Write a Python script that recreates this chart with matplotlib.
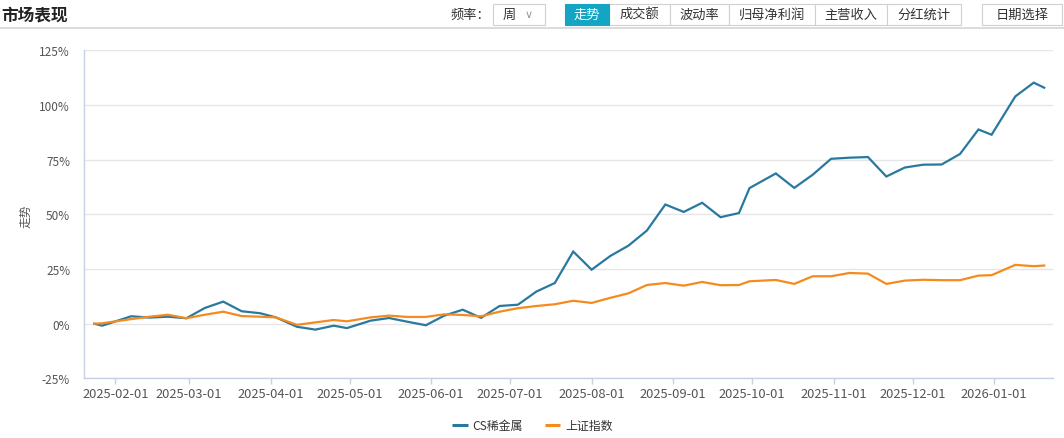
import matplotlib
matplotlib.use("Agg")
import matplotlib.pyplot as plt
import matplotlib.dates as mdates
from matplotlib.patches import Rectangle
import pandas as pd

plt.rcParams['font.family'] = ['Noto Sans CJK SC', 'DejaVu Sans']

# ---------------- data ----------------
dates = ["2025-01-24", "2025-01-27", "2025-02-07", "2025-02-14", "2025-02-21", "2025-02-28",
         "2025-03-07", "2025-03-14", "2025-03-21", "2025-03-28", "2025-04-03", "2025-04-11",
         "2025-04-18", "2025-04-25", "2025-04-30", "2025-05-09", "2025-05-16", "2025-05-23",
         "2025-05-30", "2025-06-06", "2025-06-13", "2025-06-20", "2025-06-27", "2025-07-04",
         "2025-07-11", "2025-07-18", "2025-07-25", "2025-08-01", "2025-08-08", "2025-08-15",
         "2025-08-22", "2025-08-29", "2025-09-05", "2025-09-12", "2025-09-19", "2025-09-26",
         "2025-09-30", "2025-10-10", "2025-10-17", "2025-10-24", "2025-10-31", "2025-11-07",
         "2025-11-14", "2025-11-21", "2025-11-28", "2025-12-05", "2025-12-12", "2025-12-19",
         "2025-12-26", "2025-12-31", "2026-01-09", "2026-01-16", "2026-01-20"]

cs_rare_metal = [0.0, -0.9, 3.4, 2.8, 3.2, 2.5, 7.2, 10.1, 5.7, 4.8, 2.9, -1.4, -2.7, -0.9,
                 -2.0, 1.4, 2.6, 0.9, -0.7, 3.7, 6.4, 2.7, 8.1, 8.7, 14.7, 18.6, 33.0, 24.7,
                 30.9, 35.7, 42.6, 54.5, 51.1, 55.3, 48.7, 50.6, 62.0, 68.7, 62.1, 68.1, 75.4,
                 75.9, 76.2, 67.3, 71.4, 72.7, 72.8, 77.6, 88.8, 86.4, 103.9, 110.2, 107.9]

sse_index = [0.0, 0.2, 2.1, 3.2, 4.1, 2.5, 4.1, 5.5, 3.5, 3.2, 2.9, -0.5, 0.6, 1.7,
             1.1, 2.9, 3.7, 3.1, 3.1, 4.3, 4.0, 3.4, 5.5, 7.1, 8.1, 8.9, 10.5, 9.5,
             11.8, 13.9, 17.7, 18.6, 17.4, 19.1, 17.6, 17.7, 19.4, 20.0, 18.2, 21.7, 21.7,
             23.2, 22.9, 18.2, 19.7, 20.1, 19.9, 19.9, 22.0, 22.2, 26.9, 26.3, 26.6]

series_names = ["CS稀金属", "上证指数"]
x_ticks = ["2025-02-01", "2025-03-01", "2025-04-01", "2025-05-01", "2025-06-01", "2025-07-01",
           "2025-08-01", "2025-09-01", "2025-10-01", "2025-11-01", "2025-12-01", "2026-01-01"]
y_ticks = [-25, 0, 25, 50, 75, 100, 125]

tabs = ["走势", "成交额", "波动率", "归母净利润", "主营收入", "分红统计"]

# ---------------- styling ----------------
W, H = 1064, 439
BLUE = "#29799f"
ORANGE = "#f58a1f"
AXIS_C = "#c6d2e4"
GRID_C = "#e6e6e6"
TEXT_C = "#555555"
TEAL = "#14a5c4"

fig = plt.figure(figsize=(W / 100, H / 100), dpi=100)
fig.patch.set_facecolor("white")

# main axes placed in pixel coords
left, right, top, bottom = 84, 1053, 51.3, 379.4
ax = fig.add_axes([left / W, (H - bottom) / H, (right - left) / W, (bottom - top) / H])

x = pd.to_datetime(dates)
ax.plot(x, cs_rare_metal, color=BLUE, lw=1.6, solid_joinstyle="miter", zorder=3)
ax.plot(x, sse_index, color=ORANGE, lw=1.6, solid_joinstyle="miter", zorder=3)

ax.set_ylim(-25, 125)
ax.set_yticks(y_ticks)
ax.set_yticklabels([f"{v}%" for v in y_ticks])
ax.set_xlim(pd.Timestamp("2025-01-20 02:00"), pd.Timestamp("2026-01-23 08:00"))
ax.set_xticks(pd.to_datetime(x_ticks))
ax.set_xticklabels(x_ticks)

for s in ["top", "right"]:
    ax.spines[s].set_visible(False)
for s in ["left", "bottom"]:
    ax.spines[s].set_color(AXIS_C)
    ax.spines[s].set_linewidth(1.0)

ax.yaxis.grid(True, color=GRID_C, lw=1.0)
ax.set_axisbelow(True)
ax.tick_params(axis="y", length=0, pad=10, labelsize=8.5, labelcolor=TEXT_C)
ax.tick_params(axis="x", length=4, width=1.0, color=AXIS_C, pad=2, labelsize=9.3, labelcolor=TEXT_C)

fig.text(26 / W, 1 - 216 / H, "走势", rotation=90, ha="center", va="center", fontsize=8.5, color=TEXT_C)

# ---------------- header & legend overlay ----------------
ov = fig.add_axes([0, 0, 1, 1], facecolor="none")
ov.set_xlim(0, W)
ov.set_ylim(H, 0)
ov.axis("off")

ov.text(1, 15, "市场表现", fontsize=12, fontweight="bold", color="#222222", ha="left", va="center")
ov.plot([0, W], [28.5, 28.5], color="#d4d4d4", lw=1.2)

ov.text(470, 15, "频率：", fontsize=9.5, color="#333333", ha="center", va="center")
ov.add_patch(Rectangle((493, 4.5), 52, 21.5, facecolor="white", edgecolor="#d0d0d0", lw=0.8))
ov.text(509, 15, "周", fontsize=9.5, color="#333333", ha="center", va="center")
ov.text(529, 14.5, "∨", fontsize=8, color="#999999", ha="center", va="center", family="DejaVu Sans")

edges = [565, 609, 670, 729, 815, 887, 961]
for i, t in enumerate(tabs):
    x0, x1 = edges[i], edges[i + 1]
    active = i == 0
    ov.add_patch(Rectangle((x0, 4.5), x1 - x0, 21.5,
                           facecolor=TEAL if active else "white",
                           edgecolor=TEAL if active else "#d0d0d0", lw=0.8, zorder=2 if active else 1))
    ov.text((x0 + x1) / 2, 15.3, t, fontsize=9.5, color="white" if active else "#333333",
            ha="center", va="center", zorder=3)

ov.add_patch(Rectangle((982, 4.5), 80, 21.5, facecolor="white", edgecolor="#d0d0d0", lw=0.8))
ov.text(1022, 15.3, "日期选择", fontsize=9.5, color="#333333", ha="center", va="center")

# legend
ov.plot([452, 467.5], [426.5, 426.5], color=BLUE, lw=2.2, solid_capstyle="butt")
ov.text(472.5, 426.5, series_names[0], fontsize=8.6, color="#333333", ha="left", va="center")
ov.plot([544.5, 560], [426.5, 426.5], color=ORANGE, lw=2.2, solid_capstyle="butt")
ov.text(565.5, 426.5, series_names[1], fontsize=8.6, color="#333333", ha="left", va="center")

fig.savefig("out.png", dpi=100, facecolor="white")
